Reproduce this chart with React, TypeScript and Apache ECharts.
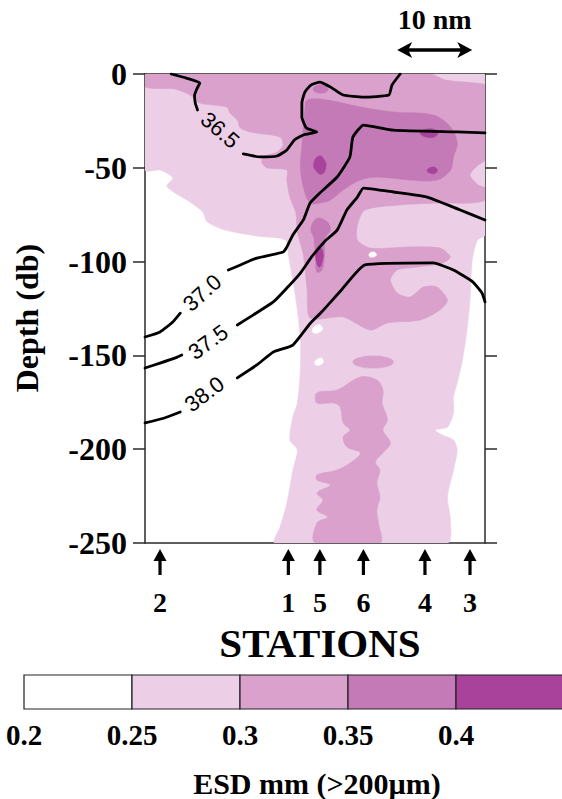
import React, { useEffect, useRef } from "react";
import * as echarts from "echarts";

// ---------- axes ----------
const distanceMaxNm = 45.3;
const depthMin = -250;
const depthMax = 0;
const depthStep = 50;

// ---------- colour classes (ESD, mm) ----------
const esdBreakLabels = ["0.2", "0.25", "0.3", "0.35", "0.4"];
const esdColors = ["#FFFFFF", "#ECCFE6", "#D9A1CC", "#C37AB6", "#A8429A"];

// ---------- stations ----------
const stationNames = ["2", "1", "5", "6", "4", "3"];
const stationDistNm = [2.0, 19.1, 23.3, 29.1, 37.3, 43.3];

// ---------- scale bar ----------
const scaleBarStartNm = 33.6;
const scaleBarLenNm = 10;

// ---------- ESD class regions [distance nm, depth db] ----------
const esd025Region = [
  [0, 0], [45.3, 0], [45.3, -85.8], [44.3, -88.5], [43.6, -99.1], [43.3, -120.5], [42.9, -136.5],
  [42.3, -152.5], [41.7, -163.1], [41.1, -172.2], [41.1, -180.7], [40.3, -188.2], [38.7, -189.8],
  [39.6, -192.4], [41.1, -195.1], [41.6, -200.4], [41.1, -211.1], [40.3, -225.5], [40.7, -237.7],
  [40.3, -250], [17.3, -250], [18, -241.5], [18.9, -228.7], [19.7, -211.1], [20.3, -200.4],
  [19.3, -195.1], [19.7, -182.8], [20.3, -175.4], [20.7, -157.8], [20.7, -141.8], [20.3, -125.8],
  [19.7, -109.8], [19.1, -96.5], [18.7, -88.5], [14.9, -86.4], [10.7, -83.2], [8.3, -78.9],
  [7.7, -73.6], [6, -68.2], [4, -63.4], [2.9, -59.7], [3.7, -55.4], [2, -51.2], [0, -51.2],
];

const esd030Upper = [
  [0, 0], [38, 0], [40, -3.2], [45.1, -5.3], [45.3, -6.4], [45.3, -45.8], [44.4, -48.5],
  [43.3, -53.8], [44.4, -59.2], [45.3, -60.8], [45.3, -67.2], [43.3, -68.8], [39.3, -68.8],
  [34, -69.8], [29.3, -72.5], [28.3, -80.5], [28.3, -88.5], [30, -92.8], [35.3, -92.2],
  [39.3, -92.8], [40.7, -97.5], [39.7, -100.7], [36.3, -102.9], [33.6, -104.5], [32.7, -109.8],
  [33.6, -116.7], [35.3, -118.9], [37.1, -113.5], [38.9, -113.5], [40.3, -120.5], [39.3, -125.8],
  [36.7, -131.1], [32.3, -132.7], [30, -136.5], [26.4, -129.5], [22, -130.1], [21.6, -115.1],
  [21.1, -96.5], [20.3, -84.2], [20.1, -74.1], [19.3, -65.6], [18.9, -56.5], [18.9, -51.2],
  [16.3, -50.1], [15.6, -47.4], [15.7, -44.2], [17.6, -41.6], [18.4, -37.8], [18, -33.6],
  [14, -30.9], [12.7, -28.8], [12.3, -24.5], [11.3, -20.8], [10.9, -17.6], [7.3, -15.5],
  [6, -11.2], [4, -8], [0, -6.9],
];

const esd030Lower = [
  [22.9, -170], [25.6, -168.4], [28.7, -161.5], [30.9, -163.1], [31.7, -168.4], [31.6, -175.4],
  [32.3, -184.4], [31.7, -189.8], [32.7, -196.7], [31.7, -202], [30.7, -206.8], [31.3, -211.1],
  [30.9, -218], [31.3, -225.5], [30.9, -232.4], [31.1, -239.3], [31.3, -250], [22.7, -250],
  [22.9, -239.3], [24.3, -236.1], [22.9, -232.4], [23.7, -227.1], [22.9, -223.3], [24.7, -219.1],
  [22.9, -216.4], [22.9, -213.7], [25.6, -211.1], [27.3, -207.4], [28.7, -202], [26.9, -198.8],
  [26.4, -193.5], [27.3, -189.8], [26.4, -186], [26, -177.5], [25.1, -175.4], [22.9, -175.4],
];

const esd030Patch = [
  [27.7, -153.5], [28.4, -151.4], [30.4, -150.3], [32.4, -151.4], [33.1, -153.5], [32.4, -155.7],
  [30.4, -156.7], [28.4, -155.7],
];

const esd025Gaps = [
  [[29.9, -95.6], [30.6, -95.0], [30.8, -96.8], [30.0, -97.5]],
  [[22.4, -135.4], [23.3, -133.8], [23.6, -136.5], [22.5, -138.1]],
  [[22.7, -153], [23.5, -151.4], [23.7, -154], [22.8, -155.1]],
];

const esd035Core = [
  [21.6, -13.9], [24.3, -13.9], [28.7, -17.6], [33.1, -20.3], [38.4, -21.9], [40.7, -28.3],
  [41.6, -36.8], [41.1, -44.2], [40.7, -51.2], [38.9, -56.5], [35.3, -56.5], [30.9, -54.9],
  [28.7, -56.5], [26.4, -61.8], [24.7, -67.2], [23.3, -68.8], [22, -68.8], [21.1, -60.2],
  [20.7, -49.6], [20.9, -38.9], [21.1, -28.3], [21.3, -19.2],
];

const esd035Strip = [
  [23.1, -76.8], [24.3, -78.9], [24.7, -83.2], [24, -87.4], [23.9, -96.5], [23.6, -104.5],
  [22.9, -105.5], [22.7, -96.5], [22.5, -87.4], [22.1, -83.2], [22.4, -78.9],
];

const esd035Top = [[22.4, -8], [23.1, -5.9], [24.1, -6.4], [24.3, -9.1], [23.1, -10.1]];

const esd040Spots = [
  [[23.2, -43.7], [23.9, -45.8], [24.1, -49.6], [23.6, -53.3], [22.8, -51.7], [22.5, -47.4]],
  [[36.7, -31.4], [37.7, -29.3], [38.9, -30.4], [38.8, -33], [37.5, -33.6]],
  [[37.6, -51.2], [38.3, -49.6], [38.9, -50.7], [38.7, -52.8], [37.9, -52.8]],
  [[23.2, -92.2], [23.7, -94.9], [23.6, -100.2], [23.2, -102.9], [22.8, -99.1], [22.8, -94.9]],
];

// ---------- salinity isolines ----------
const iso365a = [[3.5, 0], [5.5, -2.2], [7.3, -4.8], [6.9, -8], [6.6, -11.5], [6.7, -15.5], [7.0, -19.2]];
const iso365b = [
  [13.1, -42.6], [15.3, -44.2], [17.6, -43.7], [18.9, -40.5], [19.9, -35.2], [21.1, -32.5],
  [22.9, -30.9], [21.5, -28.8], [20.9, -22.9], [20.9, -15.5], [21.3, -9.6], [22.1, -5.9],
  [23.3, -4.3], [24.7, -6.9], [26.4, -11.2], [29.1, -12.3], [32.5, -11.2], [32.9, -5.9], [34, 0],
];
const iso370a = [[0, -140.2], [2, -137.5], [3.7, -132.2], [4.7, -127.5]];
const iso370b = [
  [11.1, -104.5], [12.7, -101.8], [14.9, -98.1], [18.4, -94.9], [18.9, -92.2], [19.7, -85.8],
  [21.1, -77.8], [22, -68.8], [23.3, -63.4], [25.6, -54.9], [27.3, -44.2], [27.7, -33.6],
  [29.1, -27.2], [33.1, -29.9], [41.6, -30.9], [45.3, -31.4],
];
const iso375a = [[0, -156.7], [2, -154.1], [4.3, -150.9], [4.9, -149.8]];
const iso375b = [
  [12.3, -133.8], [14.4, -128.5], [17.1, -121.5], [18.9, -114.1], [20.7, -106.1], [22.2, -97.5],
  [24, -89], [25.6, -83.2], [26.9, -72.5], [28.3, -65.6], [29.1, -60.8], [33.1, -62.9],
  [37.6, -65.6], [42, -72.5], [45.3, -77.8],
];
const iso380a = [[0, -186], [2.5, -183.5], [4.7, -180.2]];
const iso380b = [
  [12.3, -162], [14.9, -155.1], [17.1, -148.2], [19.7, -144.5], [22, -133], [23.5, -127],
  [26.2, -115], [29.3, -101.8], [38.4, -100.7], [41.1, -104.5], [43.7, -110.9], [44.9, -116.7],
  [45.3, -121.5],
];

const isoLabelText = ["36.5", "37.0", "37.5", "38.0"];
const isoLabelPos = [[10, -29.9], [7.6, -116.7], [8.4, -142.9], [7.9, -170.6]];
const isoLabelAngle = [-41, 42, 36, 37];

// ---------- chart ----------
const SERIF = '"Liberation Serif", "Times New Roman", serif';
const SANS = '"Liberation Sans", Arial, sans-serif';

function polygonSeries(pts: number[][], color: string, z: number, smooth: number) {
  return {
    type: "custom",
    coordinateSystem: "cartesian2d",
    data: pts,
    encode: { x: 0, y: 1 },
    z,
    clip: true,
    silent: true,
    renderItem: (params: any, api: any) => {
      if (params.dataIndex !== 0) return null;
      const points = pts.map((p) => api.coord(p));
      const cs = params.coordSys;
      const constraint = [
        [cs.x, cs.y],
        [cs.x + cs.width, cs.y + cs.height],
      ];
      return {
        type: "polygon",
        shape: { points, smooth, smoothConstraint: constraint },
        style: { fill: color, stroke: color, lineWidth: 0.6 },
      };
    },
  };
}

function isoSeries(pts: number[][]) {
  return {
    type: "line",
    data: pts,
    showSymbol: false,
    symbol: "none",
    smooth: 0.15,
    z: 5,
    silent: true,
    lineStyle: { color: "#000", width: 2.8, cap: "round", join: "round" },
  };
}

function buildOption() {
  const series: any[] = [];
  series.push(polygonSeries(esd025Region, esdColors[1], 1, 0.25));
  series.push(polygonSeries(esd030Upper, esdColors[2], 2, 0.25));
  series.push(polygonSeries(esd030Lower, esdColors[2], 2, 0.35));
  series.push(polygonSeries(esd030Patch, esdColors[2], 2, 0.5));
  esd025Gaps.forEach((g) => series.push(polygonSeries(g, esdColors[0], 2.5, 0.5)));
  series.push(polygonSeries(esd035Core, esdColors[3], 3, 0.35));
  series.push(polygonSeries(esd035Strip, esdColors[3], 3, 0.35));
  series.push(polygonSeries(esd035Top, esdColors[3], 3, 0.5));
  esd040Spots.forEach((s) => series.push(polygonSeries(s, esdColors[4], 4, 0.5)));

  [iso365a, iso365b, iso370a, iso370b, iso375a, iso375b, iso380a, iso380b].forEach((l) =>
    series.push(isoSeries(l))
  );

  series.push({
    type: "custom",
    data: isoLabelPos,
    encode: { x: 0, y: 1 },
    z: 6,
    silent: true,
    renderItem: (params: any, api: any) => {
      const [x, y] = api.coord([api.value(0), api.value(1)]);
      return {
        type: "text",
        x,
        y,
        rotation: (isoLabelAngle[params.dataIndex] * Math.PI) / 180,
        style: {
          text: isoLabelText[params.dataIndex],
          font: `22px ${SANS}`,
          fill: "#000",
          align: "center",
          verticalAlign: "middle",
        },
      };
    },
  });

  // station arrows
  series.push({
    type: "custom",
    data: stationDistNm.map((d) => [d, depthMin]),
    encode: { x: 0, y: 1 },
    z: 6,
    clip: false,
    silent: true,
    renderItem: (params: any, api: any) => {
      const [x, yb] = api.coord([api.value(0), api.value(1)]);
      return {
        type: "group",
        children: [
          {
            type: "polygon",
            shape: { points: [[x, yb + 6], [x - 6.5, yb + 18], [x + 6.5, yb + 18]] },
            style: { fill: "#000" },
          },
          { type: "rect", shape: { x: x - 1.6, y: yb + 16, width: 3.2, height: 16 }, style: { fill: "#000" } },
          {
            type: "text",
            x,
            y: yb + 59,
            style: {
              text: stationNames[params.dataIndex],
              font: `bold 28px ${SERIF}`,
              fill: "#000",
              align: "center",
              verticalAlign: "middle",
            },
          },
        ],
      };
    },
  });

  // scale bar
  series.push({
    type: "custom",
    data: [[scaleBarStartNm, depthMax]],
    encode: { x: 0, y: 1 },
    z: 6,
    clip: false,
    silent: true,
    renderItem: (params: any, api: any) => {
      const [x0, yt] = api.coord([api.value(0), api.value(1)]);
      const [x1] = api.coord([api.value(0) + scaleBarLenNm, api.value(1)]);
      const y = yt - 24;
      return {
        type: "group",
        children: [
          { type: "rect", shape: { x: x0 + 10, y: y - 1.8, width: x1 - x0 - 20, height: 3.6 }, style: { fill: "#000" } },
          { type: "polygon", shape: { points: [[x0, y], [x0 + 15, y - 8], [x0 + 11, y], [x0 + 15, y + 8]] }, style: { fill: "#000" } },
          { type: "polygon", shape: { points: [[x1, y], [x1 - 15, y - 8], [x1 - 11, y], [x1 - 15, y + 8]] }, style: { fill: "#000" } },
          {
            type: "text",
            x: (x0 + x1) / 2,
            y: yt - 55,
            style: {
              text: `${scaleBarLenNm} nm`,
              font: `bold 28px ${SERIF}`,
              fill: "#000",
              align: "center",
              verticalAlign: "middle",
            },
          },
        ],
      };
    },
  });

  // colour bar (legend)
  const graphic: any[] = [];
  const cbX = 24, cbY = 675, cbW = 108, cbH = 34;
  esdColors.forEach((c, i) => {
    graphic.push({
      type: "rect",
      shape: { x: cbX + i * cbW, y: cbY, width: cbW, height: cbH },
      style: { fill: c, stroke: "#222", lineWidth: 1.2 },
    });
  });
  esdBreakLabels.forEach((t, i) => {
    graphic.push({
      type: "text",
      x: cbX + i * cbW,
      y: 735,
      style: { text: t, font: `bold 29px ${SERIF}`, fill: "#000", align: "center", verticalAlign: "middle" },
    });
  });
  graphic.push({
    type: "text",
    x: 317,
    y: 783,
    style: { text: "ESD mm (>200µm)", font: `bold 30px ${SERIF}`, fill: "#000", align: "center", verticalAlign: "middle" },
  });
  graphic.push({
    type: "text",
    x: 320,
    y: 643,
    style: { text: "STATIONS", font: `bold 41px ${SERIF}`, fill: "#000", align: "center", verticalAlign: "middle" },
  });
  graphic.push({
    type: "text",
    x: 27,
    y: 318,
    rotation: Math.PI / 2,
    style: { text: "Depth (db)", font: `bold 32px ${SERIF}`, fill: "#000", align: "center", verticalAlign: "middle" },
  });

  const lineColor = "#2a2a2a";
  const xAxisBase = {
    type: "value",
    min: 0,
    max: distanceMaxNm,
    axisLine: { show: true, onZero: false, lineStyle: { color: lineColor, width: 1.5 } },
    axisTick: { show: false },
    axisLabel: { show: false },
    splitLine: { show: false },
  };
  const yAxisBase = {
    type: "value",
    min: depthMin,
    max: depthMax,
    interval: depthStep,
    axisLine: { show: true, onZero: false, lineStyle: { color: lineColor, width: 1.5 } },
    axisTick: { show: true, inside: false, length: 12, lineStyle: { color: lineColor, width: 1.5 } },
    splitLine: { show: false },
  };

  return {
    animation: false,
    backgroundColor: "#fff",
    grid: { left: 145, top: 74, width: 340, height: 469, show: false },
    xAxis: [
      { ...xAxisBase, position: "bottom" },
      { ...xAxisBase, position: "top" },
    ],
    yAxis: [
      {
        ...yAxisBase,
        position: "left",
        axisLabel: {
          show: true,
          margin: 18,
          color: "#000",
          fontFamily: "Liberation Serif",
          fontWeight: "bold",
          fontSize: 32,
        },
      },
      { ...yAxisBase, position: "right", axisLabel: { show: false } },
    ],
    series,
    graphic,
  };
}

export default function App() {
  const ref = useRef<HTMLDivElement>(null);
  useEffect(() => {
    document.body.style.margin = "0";
    const chart = echarts.init(ref.current!, null, { renderer: "svg" });
    chart.setOption(buildOption() as any);
    return () => chart.dispose();
  }, []);
  return <div ref={ref} style={{ width: 562, height: 799 }} />;
}
